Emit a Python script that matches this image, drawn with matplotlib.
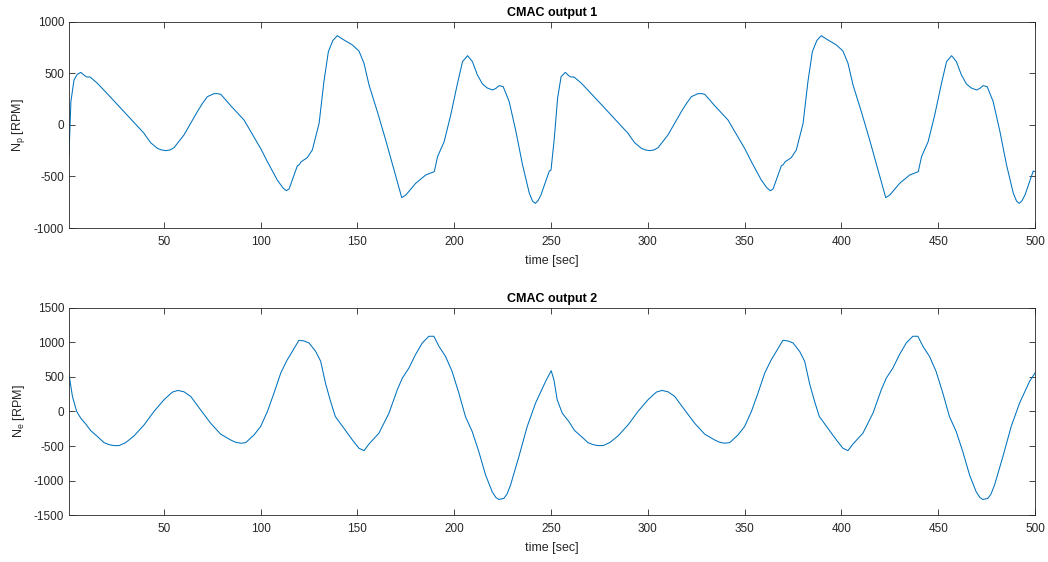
import numpy as np
import matplotlib
matplotlib.use("Agg")
import matplotlib.pyplot as plt

# values
t_np = [1, 2, 3.6, 5.3, 7.1, 9.1, 10.2, 11.9, 15.7, 24.3, 32.9, 39.8, 40.6, 43.2,
        46.7, 48.8, 51, 53.2, 55.3, 60.4, 67.3, 70, 72.5, 75.9, 77.6, 79.4, 82,
        84.5, 91.4, 100, 103.5,
        108.6, 111.5, 113.3, 114.7, 117.3, 119, 119.8, 121, 124.1, 126.7, 130.2,
        132.7, 135, 137.3, 139.6, 142.2, 147.4, 150.8, 153.4, 156, 160.3, 164.6,
        168.9, 172.9, 175, 180.1, 185.3, 189.7, 191.4, 194.8, 198.2, 201.7, 204.3,
        206.9, 209.4, 212, 214.6, 217, 219.8, 221.5, 223.2, 225.3, 228.4, 231.9,
        235.3, 238.8, 240.5, 241.9, 243.3, 244.8, 249.1, 250,
        251.7, 253.4, 255.2, 257.4, 259.1, 260.2, 261.9, 265.7, 274.3, 282.9,
        289.8, 290.6, 293.2, 296.7, 298.8, 301, 303.2, 305.3, 310.4, 317.3, 320,
        322.5, 325.9, 327.6, 329.4, 332, 334.5, 341.4, 350, 353.5, 358.6, 361.5,
        363.3, 364.7, 367.3, 369, 369.8, 371, 374.1, 376.7, 380.2, 382.7, 385,
        387.3, 389.6, 392.2, 397.4, 400.8, 403.4, 406, 410.3, 414.6, 418.9, 422.9,
        425, 430.1, 435.3, 439.7, 441.4, 444.8, 448.2, 451.7, 454.3, 456.9, 459.4,
        462, 464.6, 467, 469.8, 471.5, 473.2, 475.3, 478.4, 481.9, 485.3, 488.8,
        490.5, 491.9, 493.3, 494.8, 499.1, 500]
np_rpm = [-300, 227, 437, 492, 511, 479, 466, 466, 405, 233, 58, -81, -104, -172,
          -227, -242, -249, -242, -220, -97, 129, 210, 275, 304, 305, 298, 243,
          188, 49, -227, -356,
          -534, -610, -638, -621, -485, -395, -388, -356, -317, -243, 15,
          421, 712, 820, 867, 835, 777, 718, 599, 388, 129, -146,
          -437, -705, -680, -566, -485, -453, -307, -162, 97, 405, 615,
          673, 615, 485, 398, 360, 340, 355, 382, 372, 227, -65,
          -388, -663, -740, -761, -735, -680, -447, -437,
          -129, 259, 469, 511, 479, 466, 466, 405, 233, 58,
          -81, -104, -172, -227, -242, -249, -242, -220, -97, 129, 210,
          275, 304, 305, 298, 243, 188, 49, -227, -356, -534, -610,
          -638, -621, -485, -395, -388, -356, -317, -243, 15, 421, 712,
          820, 867, 835, 777, 718, 599, 388, 129, -146, -437, -705,
          -680, -566, -485, -453, -307, -162, 97, 405, 615, 673, 615,
          485, 398, 360, 340, 355, 382, 372, 227, -65, -388, -663,
          -740, -761, -735, -680, -447, -453]

t_ne = [1, 2.8, 5, 7.1, 9.6, 12.2, 15.7, 19.1, 21.7, 24.3, 26.9, 30.3, 34.6, 39.8,
        44.9, 50.1, 54.4, 57.3, 60.4, 63.9, 69, 74.2, 79.4, 84.5, 87, 89.7, 92.3,
        96.6, 100, 103.5, 106.9, 110.4, 113.5, 116.4, 119.8, 122.4, 125, 128.4,
        131, 133.6, 136.2, 138.6, 143, 147.4, 150.8, 153.4, 156, 161.1, 166.3,
        170.6, 173.2, 176.6, 180, 183.5, 186.9, 189.5, 192.1, 195.5, 198.9, 202.4,
        205.8, 209.3, 212.7, 216.2, 219.6, 221.5, 223, 225.6, 227.2, 229.1, 233.4,
        237.7, 242, 247.2, 250.1,
        251.5, 253.2, 255.8, 259.2, 262.2, 265.7, 269.1, 271.7, 274.3, 276.9,
        280.3, 284.6, 289.8, 294.9, 300.1, 304.4, 307.3, 310.4, 313.9, 319, 324.2,
        329.4, 334.5, 337, 339.7, 342.3, 346.6, 350, 353.5, 356.9, 360.4, 363.5,
        366.4, 369.8, 372.4, 375, 378.4, 381, 383.6, 386.2, 388.6, 393, 397.4,
        400.8, 403.4, 406, 411.1, 416.3, 420.6, 423.2, 426.6, 430, 433.5, 436.9,
        439.5, 442.1, 445.5, 448.9, 452.4, 455.8, 459.3, 462.7, 466.2, 469.6,
        471.5, 473, 475.6, 477.2, 479.1, 483.4, 487.7, 492, 497.2, 500]
ne_rpm = [540, 218, 0, -97, -179, -276, -363, -451, -480, -494, -494, -451, -354,
          -194, 0, 170, 281, 305, 286, 218, 24, -170, -329, -412, -445, -460, -451,
          -339, -218, 0, 266, 557, 736, 872, 1032, 1022, 993, 872,
          730, 400, 140, -73, -242, -412, -533, -567, -470, -315, -24,
          315, 484, 630, 824, 993, 1090, 1090, 945, 799, 581, 266,
          -73, -291, -581, -920, -1163, -1245, -1274, -1260, -1200, -1066, -654,
          -218, 121, 436, 591,
          460, 170, -24, -145, -276, -363, -451, -480, -494, -494,
          -451, -354, -194, 0, 170, 281, 305, 286, 218, 24, -170,
          -329, -412, -445, -460, -451, -339, -218, 0, 266, 557, 736,
          872, 1032, 1022, 993, 872, 730, 400, 140, -73, -242, -412,
          -533, -567, -470, -315, -24, 315, 484, 630, 824, 993, 1090,
          1090, 945, 799, 581, 266, -73, -291, -581, -920, -1163,
          -1245, -1274, -1260, -1200, -1066, -654, -218, 121, 436, 558]

plt.rcParams['font.family'] = ['Liberation Sans', 'DejaVu Sans']
plt.rcParams['mathtext.fontset'] = 'custom'
plt.rcParams['mathtext.rm'] = 'Liberation Sans'
plt.rcParams['mathtext.it'] = 'Liberation Sans'
plt.rcParams['axes.unicode_minus'] = False

line_color = '#0072BD'
axis_color = '#262626'

fig = plt.figure(figsize=(10.48, 5.62), dpi=100)
ax1 = fig.add_axes([0.0658, 0.5943, 0.9218, 0.3666])
ax2 = fig.add_axes([0.0658, 0.0836, 0.9218, 0.3684])

panels = [
    (ax1, t_np, np_rpm, 'CMAC output 1', r'N$_\mathrm{p}$ [RPM]', (-1000, 1000), 500),
    (ax2, t_ne, ne_rpm, 'CMAC output 2', r'N$_\mathrm{e}$ [RPM]', (-1500, 1500), 500),
]

for ax, t, v, title, ylab, ylim, step in panels:
    ax.plot(t, v, color=line_color, linewidth=0.75)
    ax.set_xlim(1, 500)
    ax.set_ylim(*ylim)
    ax.set_xticks(np.arange(50, 501, 50))
    ax.set_yticks(np.arange(ylim[0], ylim[1] + 1, step))
    ax.set_title(title, fontsize=9, fontweight='bold', color='black', pad=4)
    ax.set_xlabel('time [sec]', fontsize=9, color=axis_color, labelpad=5)
    ax.set_ylabel(ylab, fontsize=9, color=axis_color, labelpad=5)
    ax.tick_params(direction='in', length=4, width=0.6, top=True, right=True,
                   labelsize=8.5, colors=axis_color)
    ax.tick_params(axis='x', pad=6)
    for s in ax.spines.values():
        s.set_color(axis_color)
        s.set_linewidth(0.6)

fig.savefig('out.png', dpi=100)
